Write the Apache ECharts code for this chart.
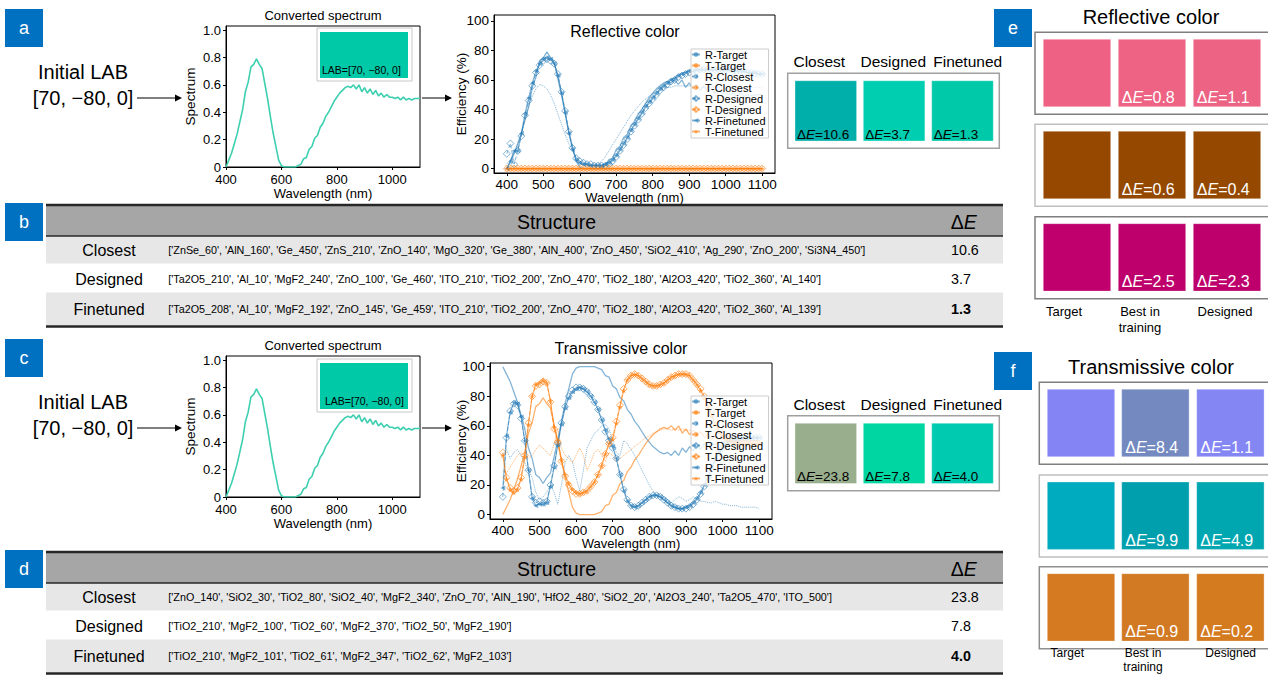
<!DOCTYPE html>
<html>
<head>
<meta charset="utf-8">
<script src="https://cdn.jsdelivr.net/npm/echarts@6/dist/echarts.min.js"></script>
<style>
  html, body { margin: 0; padding: 0; background: #fff; }
  #fig { width: 1268px; height: 675px; }
</style>
</head>
<body>
<div id="fig"></div>
<script>
// ---------------- data ----------------
const WAVELENGTH = [400,410,420,430,440,450,460,470,480,490,500,510,520,530,540,550,560,570,580,590,600,610,620,630,640,650,660,670,680,690,700,710,720,730,740,750,760,770,780,790,800,810,820,830,840,850,860,870,880,890,900,910,920,930,940,950,960,970,980,990,1000,1010,1020,1030,1040,1050,1060,1070,1080,1090,1100];

// spectrum converted from LAB = [70, -80, 0]
const CONVERTED_SPECTRUM = [
  0.00,0.05,0.10,0.17,0.24,0.33,0.42,0.55,0.62,0.73,
  0.75,0.79,0.75,0.72,0.61,0.50,0.37,0.25,0.15,0.05,
  0.01,0.00,0.00,0.00,0.00,0.00,0.01,0.02,0.06,0.07,
  0.13,0.15,0.21,0.23,0.29,0.32,0.37,0.40,0.44,0.48,
  0.51,0.54,0.56,0.58,0.59,0.58,0.60,0.57,0.60,0.55,
  0.58,0.54,0.57,0.53,0.56,0.52,0.54,0.51,0.53,0.51,
  0.51,0.50,0.51,0.49,0.51,0.49,0.50,0.49,0.50,0.50,
  0.50];

// reflective color: efficiencies (%)
const REFL_R_TARGET = [
  0,5,10,17,24,33,42,55,62,73,
  75,79,75,72,61,50,37,25,15,5,
  1,0,0,0,0,0,1,2,6,7,
  13,15,21,23,29,32,37,40,44,48,
  51,54,56,58,59,58,60,57,60,55,
  58,54,57,53,56,52,54,51,53,51,
  51,50,51,49,51,49,50,49,50,50,
  50];
const REFL_R_CLOSEST = [
  3,6,10,16,24,33,42,49,54,57,
  56,54,50,44,37,30,23,17,12,8,
  5,3,2,2,2,3,5,8,12,16,
  20,24,28,32,36,39,42,45,47,49,
  51,52,53,54,55,55,56,56,56,56,
  56,56,55,55,55,55,55,55,55,55,
  55,55,55,55,55,55,55,55,55,55,
  55];
const REFL_R_DESIGNED = [
  10,17,3,12,22,36,46,56,65,70,
  73,74,73,71,64,52,39,25,14,7,
  5,4,3,3,2,2,2,2,3,5,
  8,12,16,20,25,29,33,37,41,44,
  47,50,53,55,57,59,60,62,63,64,
  65,66,66,67,67,67,67,67,67,67,
  67,67,66,66,66,65,65,65,64,64,
  64];
const REFL_R_FINETUNED = [
  0,5,12,12,24,37,48,58,66,71,
  74,75,74,71,63,51,38,24,13,6,
  4,3,3,2,2,2,2,3,4,6,
  9,13,17,21,26,30,34,38,42,45,
  48,51,54,56,58,60,61,63,64,65,
  66,66,67,67,67,67,67,67,67,67,
  67,67,66,66,66,66,65,65,65,64,
  64];
// the reflective stacks are opaque: every transmitted curve stays at zero
const REFL_T_ALL = [
  0,0,0,0,0,0,0,0,0,0,
  0,0,0,0,0,0,0,0,0,0,
  0,0,0,0,0,0,0,0,0,0,
  0,0,0,0,0,0,0,0,0,0,
  0,0,0,0,0,0,0,0,0,0,
  0,0,0,0,0,0,0,0,0,0,
  0,0,0,0,0,0,0,0,0,0,
  0];

// transmissive color: efficiencies (%)
const TRANS_R_TARGET = [
  100,95,90,83,76,67,58,45,38,27,
  25,21,25,28,39,50,63,75,85,95,
  99,100,100,100,100,100,99,98,94,93,
  87,85,79,77,71,68,63,60,56,52,
  49,46,44,42,41,42,40,43,40,45,
  42,46,43,47,44,48,46,49,47,49,
  49,50,49,51,49,51,50,51,50,50,
  50];
const TRANS_T_TARGET = [
  0,5,10,17,24,33,42,55,62,73,
  75,79,75,72,61,50,37,25,15,5,
  1,0,0,0,0,0,1,2,6,7,
  13,15,21,23,29,32,37,40,44,48,
  51,54,56,58,59,58,60,57,60,55,
  58,54,57,53,56,52,54,51,53,51,
  51,50,51,49,51,49,50,49,50,50,
  50];
const TRANS_R_CLOSEST = [
  40,44,38,42,44,40,35,30,25,15,
  10,12,15,20,15,7,20,35,40,36,
  25,16,30,45,50,55,57,60,61,58,
  50,42,40,50,48,44,40,35,30,25,
  20,16,13,11,12,10,8,10,12,11,
  9,10,12,10,9,9,8,8,9,8,
  7,7,6,6,6,5,5,5,5,5,
  4];
const TRANS_T_CLOSEST = [
  30,28,32,36,40,42,40,38,40,44,
  47,45,42,40,48,58,45,40,38,35,
  40,45,40,30,35,42,44,40,36,42,
  40,36,38,40,42,44,46,48,50,52,
  53,55,56,57,58,58,57,58,57,58,
  57,57,56,56,55,55,54,54,54,53,
  53,53,53,53,53,53,53,53,53,53,
  53];
const TRANS_R_DESIGNED = [
  12,52,70,75,74,65,50,30,12,8,
  9,8,9,20,33,48,62,73,80,84,
  86,86,85,83,80,76,71,64,56,50,
  45,38,27,17,10,6,5,6,8,10,
  12,13,13,12,10,8,6,5,4,4,
  4,5,7,10,14,19,25,31,37,42,
  45,48,50,51,52,52,52,52,52,52,
  52];
const TRANS_T_DESIGNED = [
  42,25,18,16,18,25,40,62,80,87,
  88,90,89,76,58,49,36,26,20,16,
  14,14,15,16,19,22,27,33,41,48,
  52,63,74,85,91,94,95,94,92,90,
  88,87,87,88,89,91,93,94,95,95,
  95,94,91,88,85,80,74,68,62,57,
  54,52,50,49,48,48,48,48,48,48,
  48];
const TRANS_R_FINETUNED = [
  18,53,69,76,75,66,50,30,11,6,
  7,7,8,19,32,47,61,72,79,83,
  85,86,85,83,80,76,71,64,57,51,
  46,38,27,16,9,6,5,6,8,10,
  12,13,13,12,10,8,6,5,4,4,
  5,6,8,11,15,20,26,32,38,43,
  46,48,50,51,51,52,52,52,52,52,
  52];
const TRANS_T_FINETUNED = [
  40,24,17,15,17,24,39,61,80,88,
  89,91,89,77,59,50,37,27,21,17,
  15,14,15,16,19,22,27,33,41,48,
  51,62,73,84,91,94,95,94,92,90,
  88,87,87,88,89,91,93,94,95,95,
  95,94,91,88,84,79,73,67,61,56,
  53,51,50,49,48,48,48,48,48,48,
  48];

const SERIES_NAMES = ['R-Target','T-Target','R-Closest','T-Closest','R-Designed','T-Designed','R-Finetuned','T-Finetuned'];

// tick labels
const SPEC_X_TICKS = [400, 600, 800, 1000];
const SPEC_Y_TICKS = [0, 0.2, 0.4, 0.6, 0.8, 1.0];
const EFF_X_TICKS = [400, 500, 600, 700, 800, 900, 1000, 1100];
const EFF_Y_TICKS = [0, 20, 40, 60, 80, 100];

// texts
const PANEL_LETTERS = ['a', 'b', 'c', 'd', 'e', 'f'];
const INITIAL_LAB = ['Initial LAB', '[70, \u221280, 0]'];
const LAB_CAPTION = 'LAB=[70, \u221280, 0]';
const LAB_COLOR = '#00C9A8';
const COMPARE_HEADERS = ['Closest', 'Designed', 'Finetuned'];

// swatches next to the efficiency plots
const REFL_SWATCH_COLORS = ['#00AFA9', '#00CEB1', '#00C9A9'];
const REFL_SWATCH_DE = ['10.6', '3.7', '1.3'];
const TRANS_SWATCH_COLORS = ['#98AE8D', '#00D6A1', '#00CAAF'];
const TRANS_SWATCH_DE = ['23.8', '7.8', '4.0'];

// structure tables
const TABLE_ROWS = ['Closest', 'Designed', 'Finetuned'];
const REFL_STRUCTURES = [
  "['ZnSe_60', 'AlN_160', 'Ge_450', 'ZnS_210', 'ZnO_140', 'MgO_320', 'Ge_380', 'AlN_400', 'ZnO_450', 'SiO2_410', 'Ag_290', 'ZnO_200', 'Si3N4_450']",
  "['Ta2O5_210', 'Al_10', 'MgF2_240', 'ZnO_100', 'Ge_460', 'ITO_210', 'TiO2_200', 'ZnO_470', 'TiO2_180', 'Al2O3_420', 'TiO2_360', 'Al_140']",
  "['Ta2O5_208', 'Al_10', 'MgF2_192', 'ZnO_145', 'Ge_459', 'ITO_210', 'TiO2_200', 'ZnO_470', 'TiO2_180', 'Al2O3_420', 'TiO2_360', 'Al_139']"
];
const TRANS_STRUCTURES = [
  "['ZnO_140', 'SiO2_30', 'TiO2_80', 'SiO2_40', 'MgF2_340', 'ZnO_70', 'AlN_190', 'HfO2_480', 'SiO2_20', 'Al2O3_240', 'Ta2O5_470', 'ITO_500']",
  "['TiO2_210', 'MgF2_100', 'TiO2_60', 'MgF2_370', 'TiO2_50', 'MgF2_190']",
  "['TiO2_210', 'MgF2_101', 'TiO2_61', 'MgF2_347', 'TiO2_62', 'MgF2_103']"
];

// target / best-in-training / designed colour examples
const REFL_EXAMPLE_COLORS = [
  ['#EF6184', '#EE6283', '#EC6383'],
  ['#964800', '#954800', '#954900'],
  ['#C0006C', '#BE006C', '#BE006D']
];
const REFL_EXAMPLE_DE = [['0.8', '1.1'], ['0.6', '0.4'], ['2.5', '2.3']];
const TRANS_EXAMPLE_COLORS = [
  ['#8484F5', '#7389C0', '#8486F4'],
  ['#00ABC0', '#009FAE', '#00A6B0'],
  ['#D57A20', '#D27A23', '#D47A1F']
];
const TRANS_EXAMPLE_DE = [['8.4', '1.1'], ['9.9', '4.9'], ['0.9', '0.2']];
const EXAMPLE_COLUMNS = ['Target', 'Best in\ntraining', 'Designed'];

// ---------------- styles ----------------
const FONT = "'Liberation Sans', Arial, Helvetica, sans-serif";
const BLUE = 'rgba(31,119,180,0.55)';
const ORANGE = 'rgba(255,127,14,0.6)';
const TEAL_LINE = '#3DCFB0';
const PANEL_BLUE = '#0070C0';
const STAR = 'path://M50,0 L61,35 L98,35 L68,57 L79,91 L50,70 L21,91 L32,57 L2,35 L39,35 Z';

const LINE_STYLES = {
  'R-Target':    { color: BLUE,   width: 1.3, type: 'solid',  symbol: 'none' },
  'T-Target':    { color: ORANGE, width: 1.3, type: 'solid',  symbol: 'none' },
  'R-Closest':   { color: BLUE,   width: 1,   type: 'dotted', symbol: 'none' },
  'T-Closest':   { color: ORANGE, width: 1,   type: 'dotted', symbol: 'none' },
  'R-Designed':  { color: BLUE,   width: 1,   type: [4, 2],   symbol: 'diamond', size: 7, hollow: true },
  'T-Designed':  { color: ORANGE, width: 1,   type: [4, 2],   symbol: 'diamond', size: 7, hollow: true },
  'R-Finetuned': { color: BLUE,   width: 1.2, type: 'solid',  symbol: 'triangle', size: 5, rotate: 90 },
  'T-Finetuned': { color: ORANGE, width: 1.2, type: 'solid',  symbol: STAR, size: 6 }
};

const GRID_BASE = { show: true, borderColor: '#000', borderWidth: 1, backgroundColor: 'transparent', containLabel: false, outerBoundsMode: 'none' };
const AXIS_NAME_STYLE = { color: '#000', fontFamily: FONT, fontSize: 13 };

function xAxisFor(gridIndex, min, max, ticks, nameGap, fontSize, margin) {
  return {
    type: 'value', gridIndex, min, max,
    axisLine: { show: true, onZero: false, lineStyle: { color: '#000', width: 1 } },
    axisTick: { show: true, inside: false, length: 3, lineStyle: { color: '#000', width: 1 }, customValues: ticks },
    axisLabel: { show: true, customValues: ticks, color: '#000', fontFamily: FONT, fontSize, margin, formatter: v => String(v) },
    splitLine: { show: false },
    name: 'Wavelength (nm)', nameLocation: 'middle', nameGap, nameMoveOverlap: false,
    nameTextStyle: Object.assign({}, AXIS_NAME_STYLE, { fontSize: 13 })
  };
}
function yAxisFor(gridIndex, min, max, ticks, name, nameGap, fontSize, fmt) {
  return {
    type: 'value', gridIndex, min, max,
    axisLine: { show: true, onZero: false, lineStyle: { color: '#000', width: 1 } },
    axisTick: { show: true, inside: false, length: 3, lineStyle: { color: '#000', width: 1 }, customValues: ticks },
    axisLabel: { show: true, customValues: ticks, color: '#000', fontFamily: FONT, fontSize, margin: 5, formatter: fmt },
    splitLine: { show: false },
    name, nameLocation: 'middle', nameGap, nameRotate: 90, nameMoveOverlap: false,
    nameTextStyle: Object.assign({}, AXIS_NAME_STYLE, { fontSize: 13.5 })
  };
}
const specFmt = v => (v === 0 ? '0' : v.toFixed(1));
const effFmt = v => String(Math.round(v));

function efficiencySeries(name, values, axisIndex) {
  const s = LINE_STYLES[name];
  const hasSymbol = s.symbol !== 'none';
  return {
    type: 'line', name, xAxisIndex: axisIndex, yAxisIndex: axisIndex,
    data: WAVELENGTH.map((w, i) => [w, values[i]]),
    symbol: s.symbol, symbolSize: s.size || 4, symbolRotate: s.rotate || 0,
    showSymbol: hasSymbol, showAllSymbol: true,
    itemStyle: s.hollow ? { color: 'rgba(255,255,255,0)', borderColor: s.color, borderWidth: 1 } : { color: s.color },
    lineStyle: { color: s.color, width: s.width, type: s.type },
    silent: true, animation: false, clip: true
  };
}
function spectrumSeries(axisIndex) {
  return {
    type: 'line', name: 'Converted spectrum', xAxisIndex: axisIndex, yAxisIndex: axisIndex,
    data: WAVELENGTH.map((w, i) => [w, CONVERTED_SPECTRUM[i]]),
    symbol: 'none', lineStyle: { color: TEAL_LINE, width: 1.6 }, itemStyle: { color: TEAL_LINE },
    silent: true, animation: false
  };
}

function legendFor(top) {
  return {
    data: SERIES_NAMES, orient: 'vertical', left: 691, top,
    itemWidth: 8, itemHeight: 6, itemGap: 0, padding: [0, 3, 1, 0],
    textStyle: { fontSize: 11, lineHeight: 11, color: '#000', fontFamily: FONT },
    backgroundColor: 'rgba(255,255,255,0.8)', borderColor: '#cccccc', borderWidth: 1, borderRadius: 0,
    selectedMode: false, z: 20
  };
}

// ---------------- decorations ----------------
const G = [];
function rect(x, y, w, h, style, z) {
  G.push({ type: 'rect', silent: true, z: z == null ? 50 : z, shape: { x, y, width: w, height: h }, style });
}
function hline(x1, x2, y, stroke, lw) {
  G.push({ type: 'line', silent: true, z: 55, shape: { x1, y1: y, x2, y2: y }, style: { stroke, lineWidth: lw } });
}
function text(x, y, str, opt) {
  opt = opt || {};
  const st = {
    text: str, x, y, fill: opt.fill || '#000',
    font: (opt.italic ? 'italic ' : '') + (opt.bold ? 'bold ' : '') + opt.size + 'px ' + FONT,
    textAlign: opt.align || 'left', textVerticalAlign: opt.valign || 'middle',
    align: opt.align || 'left', verticalAlign: opt.valign || 'middle'
  };
  if (opt.lineHeight) st.lineHeight = opt.lineHeight;
  if (opt.rich) st.rich = opt.rich;
  G.push({ type: 'text', silent: true, z: opt.z == null ? 60 : opt.z, style: st });
}
function deltaE(x, y, value, size, fill, align, bold) {
  const base = { fontSize: size, fontFamily: FONT, fill, fontWeight: bold ? 'bold' : 'normal' };
  text(x, y, '{n|\u0394}{i|E}{n|' + (value == null ? '' : '=' + value) + '}', {
    size, fill, align: align || 'left',
    rich: { n: Object.assign({}, base), i: Object.assign({}, base, { fontStyle: 'italic' }) }
  });
}
function arrow(x1, x2, y) {
  hline(x1, x2 - 6, y, '#000', 1);
  G.push({ type: 'polygon', silent: true, z: 55, shape: { points: [[x2, y], [x2 - 7, y - 3.5], [x2 - 7, y + 3.5]] }, style: { fill: '#000' } });
}
function panelLetter(x, y, letter) {
  rect(x, y, 38, 38, { fill: PANEL_BLUE }, 70);
  text(x + 19, y + 19, letter, { size: 18, fill: '#fff', align: 'center', z: 71 });
}

// panels a and c: LAB input -> spectrum -> efficiencies -> swatches
function inputPanel(dy, letter, insetDy) {
  panelLetter(5, 9 + dy, letter);
  text(83, 72 + dy, INITIAL_LAB[0], { size: 20, align: 'center' });
  text(83, 98 + dy, INITIAL_LAB[1], { size: 20, align: 'center' });
  arrow(137, 182, 98 + dy);
  arrow(422, 452, 98 + dy);
  text(323, 15 + dy, 'Converted spectrum', { size: 13, align: 'center' });
  // colour inset inside the spectrum plot
  rect(317, 28 + insetDy, 95, 53, { fill: '#fff', stroke: '#c8c8c8', lineWidth: 1 }, 40);
  rect(320, 32 + insetDy, 88, 46, { fill: LAB_COLOR }, 41);
  text(322 + (insetDy > 300 ? 3 : 0), 70 + insetDy, LAB_CAPTION, { size: 10.5, z: 42 });
}
inputPanel(0, PANEL_LETTERS[0], 0);
inputPanel(330, PANEL_LETTERS[2], 331);

text(625, 31, 'Reflective color', { size: 16, align: 'center', z: 30 });
text(621, 348, 'Transmissive color', { size: 16, align: 'center', z: 30 });

function swatchPanel(dy, colors, des) {
  const xs = [795, 863.3, 931.7];
  const heads = [819.3, 893.3, 967.7];
  COMPARE_HEADERS.forEach((h, i) => text(heads[i], 61.7 + dy, h, { size: 15.5, align: 'center' }));
  rect(787.7, 73.3 + dy, 211.6, 75, { fill: '#fff', stroke: '#a0a0a0', lineWidth: 1.5 }, 40);
  colors.forEach((c, i) => {
    rect(xs[i], 80.7 + dy, 61.6, 60.3, { fill: c, stroke: 'rgba(255,255,255,0.35)', lineWidth: 1 }, 41);
    deltaE(xs[i] + 2, 134 + dy, des[i], 13.5, '#000');
  });
}
swatchPanel(0, REFL_SWATCH_COLORS, REFL_SWATCH_DE);
swatchPanel(342.5, TRANS_SWATCH_COLORS, TRANS_SWATCH_DE);

// panels b and d: structure tables
function structureTable(y0, letter, structures, des) {
  const x0 = 46, w = 957;
  rect(x0, y0 + 2, w, 31, { fill: '#A6A6A6' }, 45);
  rect(x0, y0 + 33.5, w, 27, { fill: '#E7E7E7' }, 45);
  rect(x0, y0 + 89.5, w, 33, { fill: '#E7E7E7' }, 45);
  hline(x0, x0 + w, y0 + 2, '#262626', 2.5);
  hline(x0, x0 + w, y0 + 33, '#262626', 1.5);
  hline(x0, x0 + w, y0 + 123.5, '#262626', 2.5);
  panelLetter(5, y0, letter);
  text(556.5, y0 + 18.5, 'Structure', { size: 19.5, align: 'center' });
  deltaE(963.7, y0 + 18.5, null, 19.5, '#000', 'center');
  const rowY = [y0 + 47, y0 + 76, y0 + 106];
  TABLE_ROWS.forEach((r, i) => {
    text(109, rowY[i], r, { size: 16, align: 'center' });
    text(168.3, rowY[i], structures[i], { size: 10.75 });
    text(951, rowY[i], des[i], { size: 14.3, bold: i === 2 });
  });
}
structureTable(203, PANEL_LETTERS[1], REFL_STRUCTURES, REFL_SWATCH_DE);
structureTable(550, PANEL_LETTERS[3], TRANS_STRUCTURES, TRANS_SWATCH_DE);

// panels e and f: colour examples
function examplePanel(letterY, titleY, groupTops, boxX, xs, borders, colors, des, labelXs, labelY, labelSize, title, letter) {
  panelLetter(994, letterY, letter);
  text(1151, titleY, title, { size: 20, align: 'center' });
  groupTops.forEach((gy, g) => {
    rect(boxX, gy, 240, 82, { fill: '#fff', stroke: borders[g], lineWidth: 1.5 }, 40);
    colors[g].forEach((c, i) => {
      rect(xs[i], gy + 7, 67.4, 67.4, { fill: c, stroke: 'rgba(255,255,255,0.3)', lineWidth: 1 }, 41);
      if (i > 0) deltaE(xs[i] + 3.5, gy + 65, des[g][i - 1], 16, '#fff');
    });
  });
  EXAMPLE_COLUMNS.forEach((lbl, i) => text(labelXs[i], labelY, lbl, { size: labelSize, align: 'center', valign: 'top', lineHeight: labelSize + 2.5 }));
}
examplePanel(9, 17.3, [32.3, 124.3, 216.7], 1035, [1043.3, 1118.3, 1193.3],
  ['#7F7F7F', '#BFBFBF', '#7F7F7F'], REFL_EXAMPLE_COLORS, REFL_EXAMPLE_DE,
  [1064, 1140, 1225], 304, 13, 'Reflective color', PANEL_LETTERS[4]);
examplePanel(352, 367.3, [382.3, 475, 566.7], 1039.3, [1047.3, 1121.7, 1196.7],
  ['#7F7F7F', '#BFBFBF', '#8F8F8F'], TRANS_EXAMPLE_COLORS, TRANS_EXAMPLE_DE,
  [1067.3, 1143, 1230.7], 645.5, 12, 'Transmissive color', PANEL_LETTERS[5]);

// ---------------- chart ----------------
const reflSeries = [
  efficiencySeries('R-Target', REFL_R_TARGET, 1),
  efficiencySeries('T-Target', REFL_T_ALL, 1),
  efficiencySeries('R-Closest', REFL_R_CLOSEST, 1),
  efficiencySeries('T-Closest', REFL_T_ALL, 1),
  efficiencySeries('R-Designed', REFL_R_DESIGNED, 1),
  efficiencySeries('T-Designed', REFL_T_ALL, 1),
  efficiencySeries('R-Finetuned', REFL_R_FINETUNED, 1),
  efficiencySeries('T-Finetuned', REFL_T_ALL, 1)
];
const transSeries = [
  efficiencySeries('R-Target', TRANS_R_TARGET, 3),
  efficiencySeries('T-Target', TRANS_T_TARGET, 3),
  efficiencySeries('R-Closest', TRANS_R_CLOSEST, 3),
  efficiencySeries('T-Closest', TRANS_T_CLOSEST, 3),
  efficiencySeries('R-Designed', TRANS_R_DESIGNED, 3),
  efficiencySeries('T-Designed', TRANS_T_DESIGNED, 3),
  efficiencySeries('R-Finetuned', TRANS_R_FINETUNED, 3),
  efficiencySeries('T-Finetuned', TRANS_T_FINETUNED, 3)
];

const option = {
  animation: false,
  backgroundColor: '#fff',
  textStyle: { fontFamily: FONT },
  grid: [
    Object.assign({ left: 226, top: 26, width: 194, height: 141 }, GRID_BASE),
    Object.assign({ left: 494, top: 15, width: 281, height: 158 }, GRID_BASE),
    Object.assign({ left: 226, top: 356, width: 194, height: 141 }, GRID_BASE),
    Object.assign({ left: 490, top: 363, width: 282, height: 156 }, GRID_BASE)
  ],
  xAxis: [
    xAxisFor(0, 400, 1100, SPEC_X_TICKS, 20, 13, 6),
    xAxisFor(1, 365, 1135, EFF_X_TICKS, 18, 13.5, 4),
    xAxisFor(2, 400, 1100, SPEC_X_TICKS, 20, 13, 6),
    xAxisFor(3, 365, 1135, EFF_X_TICKS, 18, 13.5, 4)
  ],
  yAxis: [
    yAxisFor(0, 0, 1.03, SPEC_Y_TICKS, 'Spectrum', 29, 13, specFmt),
    yAxisFor(1, -3, 104, EFF_Y_TICKS, 'Efficiency (%)', 26, 13.5, effFmt),
    yAxisFor(2, 0, 1.03, SPEC_Y_TICKS, 'Spectrum', 29, 13, specFmt),
    yAxisFor(3, -3, 102.5, EFF_Y_TICKS, 'Efficiency (%)', 22, 13.5, effFmt)
  ],
  legend: [legendFor(49), legendFor(396)],
  series: [spectrumSeries(0), spectrumSeries(2)].concat(reflSeries, transSeries),
  graphic: { elements: G }
};

const chart = echarts.init(document.getElementById('fig'), null, { renderer: 'svg', width: 1268, height: 675 });
chart.setOption(option);
</script>
</body>
</html>
